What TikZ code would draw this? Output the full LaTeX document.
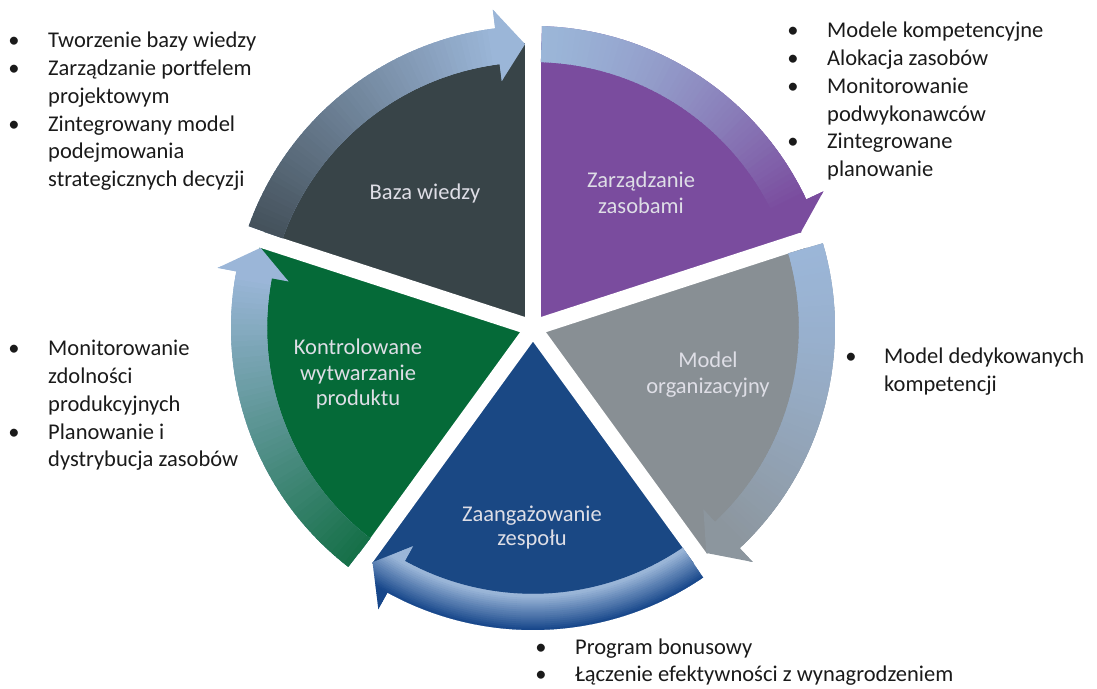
\documentclass[tikz,border=0pt]{standalone}
\usepackage{fontspec}
\setmainfont{Carlito}
\definecolor{cDark}{RGB}{56,68,72}
\definecolor{cDarkTail}{RGB}{66,79,88}
\definecolor{cPurple}{RGB}{122,76,158}
\definecolor{cGray}{RGB}{136,143,148}
\definecolor{cGrayHead}{RGB}{140,150,158}
\definecolor{cNavy}{RGB}{26,72,132}
\definecolor{cNavyOut}{RGB}{22,70,138}
\definecolor{cGreen}{RGB}{5,106,56}
\definecolor{cGreenTail}{RGB}{18,110,68}
\definecolor{cLight}{RGB}{155,182,216}
\definecolor{cLabel}{RGB}{222,222,230}
\definecolor{cText}{RGB}{26,26,26}
% arrow band along the rim: #1 tail boundary angle, #2 head boundary angle
\newcommand{\rimarrow}[2]{({#1-1.7}:302) arc[start angle={#1-1.7}, end angle={#2+7.2}, radius=302] -- ({#2+7.2}:321) -- ({#2+1.6}:284) -- ({#2+7.2}:249) -- ({#2+7.2}:266) arc[start angle={#2+7.2}, end angle={#1-1.7}, radius=266] -- cycle}
% angular gradient: #1 from angle, #2 to angle, #3 from colour, #4 to colour, #5 exponent
\newcommand{\angshade}[5]{%
  \foreach \k in {0,...,59}{%
    \pgfmathsetmacro\angA{#1-\k*(#1-(#2))/60+0.4}%
    \pgfmathsetmacro\angB{#1-(\k+1)*(#1-(#2))/60-0.4}%
    \pgfmathtruncatemacro\mixpc{100*(\k/59)^(#5)}%
    \fill[#4!\mixpc!#3] (0,0) -- (\angA:345) -- (\angB:345) -- cycle;
  }}
\tikzset{
  txt/.style={font=\fontsize{22.5pt}{27.7pt}\selectfont, text=cText, inner sep=0pt},
  lbl/.style={font=\fontsize{22.5pt}{27.7pt}\selectfont, text=cLabel, inner sep=0pt, anchor=base},
  gapline/.style={white, line width=16pt},
}
\newcommand{\tline}[4]{\node[txt, anchor=base west] (#1) at (#2,{688-#3}) {#4};}
\newcommand{\bull}[3]{\node[txt, anchor=base] (#1) at (#2,{688-#3}) {•};}
\begin{document}
\begin{tikzpicture}[x=1pt,y=1pt]
\path[use as bounding box] (0,0) rectangle (1097,688);
\begin{scope}[shift={(533,360)}]
  % wedges
  \fill[cDark]   (0,0) -- (162:285) arc[start angle=162, end angle=90, radius=285] -- cycle;
  \fill[cPurple] (0,0) -- (90:285) arc[start angle=90, end angle=18, radius=285] -- cycle;
  \fill[cGray]   (0,0) -- (18:285) arc[start angle=18, end angle=-54, radius=285] -- cycle;
  \fill[cNavy]   (0,0) -- (-54:285) arc[start angle=-54, end angle=-126, radius=285] -- cycle;
  \fill[cGreen]  (0,0) -- (234:285) arc[start angle=234, end angle=162, radius=285] -- cycle;
  % gaps
  \foreach \g in {90,18,-54,-126,162} \draw[gapline] (0,0) -- (\g:345);
  % arrows
  \begin{scope}
    \clip \rimarrow{162}{90};
    \fill[cLight] (-400,-400) rectangle (400,400);
    \angshade{162}{97.2}{cDarkTail}{cLight}{1}
  \end{scope}
  \begin{scope}
    \clip \rimarrow{90}{18};
    \fill[cPurple] (-400,-400) rectangle (400,400);
    \angshade{90}{25.2}{cLight}{cPurple}{1.5}
  \end{scope}
  \begin{scope}
    \clip \rimarrow{18}{-54};
    \fill[cGrayHead] (-400,-400) rectangle (400,400);
    \angshade{18}{-46.8}{cLight}{cGrayHead}{1.4}
  \end{scope}
  \begin{scope}
    \clip \rimarrow{-54}{-126};
    \foreach \k in {0,...,38}{%
      \pgfmathsetmacro\rr{247+2*\k}%
      \pgfmathtruncatemacro\mixpc{max(0,min(100,100*(\rr-268)/34))}%
      \draw[line width=2.5pt, cNavyOut!\mixpc!cLight] (0,0) circle (\rr);
    }
  \end{scope}
  \begin{scope}
    \clip \rimarrow{234}{162};
    \fill[cLight] (-400,-400) rectangle (400,400);
    \angshade{234}{169.2}{cGreenTail}{cLight}{1}
  \end{scope}
\end{scope}
% wedge labels
\node[lbl] (w1) at (425,{688-200}) {Baza wiedzy};
\node[lbl] (w2a) at (641,{688-188}) {Zarządzanie};
\node[lbl] (w2b) at (641,{688-213.5}) {zasobami};
\node[lbl] (w3a) at (708,{688-368}) {Model};
\node[lbl] (w3b) at (708,{688-393.5}) {organizacyjny};
\node[lbl] (w4a) at (532,{688-521.5}) {Zaangażowanie};
\node[lbl] (w4b) at (532,{688-546}) {zespołu};
\node[lbl] (w5a) at (358,{688-355}) {Kontrolowane};
\node[lbl] (w5b) at (358,{688-380.5}) {wytwarzanie};
\node[lbl] (w5c) at (358,{688-406}) {produktu};
% left top list
\bull{b1}{14}{48}   \tline{t1}{48}{48}{Tworzenie bazy wiedzy}
\bull{b2}{14}{75.7} \tline{t2}{48}{75.7}{Zarządzanie portfelem}
\tline{t3}{48}{103.4}{projektowym}
\bull{b4}{14}{131.1} \tline{t4}{48}{131.1}{Zintegrowany model}
\tline{t5}{48}{158.8}{podejmowania}
\tline{t6}{48}{186.5}{strategicznych decyzji}
% right top list
\bull{c1}{793}{38}    \tline{u1}{827}{38}{Modele kompetencyjne}
\bull{c2}{793}{65.7}  \tline{u2}{827}{65.7}{Alokacja zasobów}
\bull{c3}{793}{93.4}  \tline{u3}{827}{93.4}{Monitorowanie}
\tline{u4}{827}{121.1}{podwykonawców}
\bull{c5}{793}{148.8} \tline{u5}{827}{148.8}{Zintegrowane}
\tline{u6}{827}{176.5}{planowanie}
% right middle list
\bull{d1}{851}{364}   \tline{v1}{884}{364}{Model dedykowanych}
\tline{v2}{884}{391.7}{kompetencji}
% left middle list
\bull{e1}{14}{356}    \tline{x1}{48}{356}{Monitorowanie}
\tline{x2}{48}{383.7}{zdolności}
\tline{x3}{48}{411.4}{produkcyjnych}
\bull{e4}{14}{439.1}  \tline{x4}{48}{439.1}{Planowanie i}
\tline{x5}{48}{466.8}{dystrybucja zasobów}
% bottom list
\bull{f1}{541}{654}   \tline{y1}{575}{654}{Program bonusowy}
\bull{f2}{541}{681.7} \tline{y2}{575}{681.7}{Łączenie efektywności z wynagrodzeniem}
\end{tikzpicture}
\end{document}
